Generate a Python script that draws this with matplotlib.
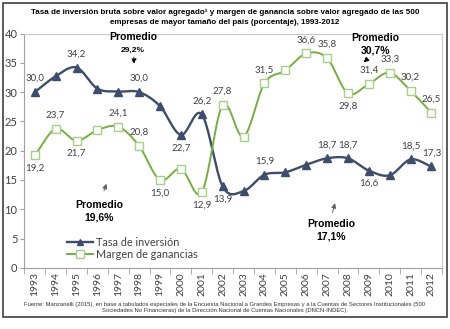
import numpy as np
import matplotlib.pyplot as plt
from matplotlib.patches import Rectangle

years = [str(y) for y in range(1993, 2013)]
tasa = [30.0, 32.7, 34.2, 30.6, 30.1, 30.0, 27.6, 22.7, 26.2, 13.9,
        13.1, 15.9, 16.3, 17.6, 18.7, 18.7, 16.6, 15.8, 18.5, 17.3]
margen = [19.2, 23.7, 21.7, 23.5, 24.1, 20.8, 15.0, 16.9, 12.9, 27.8,
          22.4, 31.5, 33.7, 36.6, 35.8, 29.8, 31.4, 33.3, 30.2, 26.5]

# which points carry a value label, and where (above / below)
tasa_labels = {0: 'a', 2: 'a', 5: 'a', 7: 'b', 8: 'a', 9: 'b', 11: 'a',
               14: 'a', 15: 'a', 16: 'b', 18: 'a', 19: 'a'}
margen_labels = {0: 'b', 1: 'a', 2: 'b', 4: 'a', 5: 'a', 6: 'b', 8: 'b',
                 9: 'a', 11: 'a', 13: 'a', 14: 'a', 15: 'b', 16: 'a',
                 17: 'a', 18: 'a', 19: 'a'}

BLUE = '#3d4d6b'
GREEN = '#77ad45'
LIGHT_GREEN = '#a8cf8a'
TXT = '#404040'
SANS = 'Liberation Sans'
NUM = 'Lato'


def smooth(x, y, n=20):
    # Catmull-Rom curve through the points (similar to Excel's smoothed line)
    x = np.asarray(x, float)
    y = np.asarray(y, float)
    px = np.concatenate([[2 * x[0] - x[1]], x, [2 * x[-1] - x[-2]]])
    py = np.concatenate([[2 * y[0] - y[1]], y, [2 * y[-1] - y[-2]]])
    xs, ys = [], []
    t = np.linspace(0, 1, n, endpoint=False)
    for i in range(1, len(px) - 2):
        for p, out in ((px, xs), (py, ys)):
            p0, p1, p2, p3 = p[i - 1], p[i], p[i + 1], p[i + 2]
            m1 = (p2 - p0) / 2
            m2 = (p3 - p1) / 2
            h00 = 2 * t**3 - 3 * t**2 + 1
            h10 = t**3 - 2 * t**2 + t
            h01 = -2 * t**3 + 3 * t**2
            h11 = t**3 - t**2
            out.extend(h00 * p1 + h10 * m1 + h01 * p2 + h11 * m2)
    xs.append(x[-1])
    ys.append(y[-1])
    return np.array(xs), np.array(ys)


fig = plt.figure(figsize=(4.5, 3.29), dpi=100)
fig.patches.append(Rectangle((0.007, 0.036), 0.986, 0.956, transform=fig.transFigure,
                             fill=False, edgecolor='#404040', linewidth=1.2))

ax = fig.add_axes([0.054, 0.186, 0.928, 0.712])
x = np.arange(len(years))

sx, sy = smooth(x, tasa)
ax.plot(sx, sy, color=BLUE, linewidth=1.7, zorder=3)
ax.plot(x, tasa, linestyle='none', marker='^', markersize=5.5, color=BLUE, zorder=4)

sx, sy = smooth(x, margen)
ax.plot(sx, sy, color=GREEN, linewidth=1.4, zorder=3)
ax.plot(x, margen, linestyle='none', marker='s', markersize=6, markerfacecolor='white',
        markeredgecolor=LIGHT_GREEN, markeredgewidth=1.0, zorder=4)

for vals, labels in ((tasa, tasa_labels), (margen, margen_labels)):
    for i, pos in labels.items():
        dy = 2.3 if pos == 'a' else -2.2
        ax.text(i, vals[i] + dy, f'{vals[i]:.1f}'.replace('.', ','), ha='center',
                va='center', fontsize=7, color=TXT, family=NUM, zorder=5)

# promedios
bold = dict(ha='center', va='center', fontsize=7.5, fontweight='bold', family=SANS)
ax.text(4.7, 39.4, 'Promedio', **bold)
ax.text(4.7, 37.2, '29,2%', ha='center', va='center', fontsize=6, fontweight='bold',
        family=SANS)
ax.annotate('', xy=(4.75, 34.3), xytext=(4.75, 36.4),
            arrowprops=dict(arrowstyle='-|>', linestyle=':', color='black', lw=0.8,
                            mutation_scale=7))
ax.text(16.3, 39.2, 'Promedio', **bold)
ax.text(16.3, 37.15, '30,7%', **bold)
ax.annotate('', xy=(15.75, 35.1), xytext=(15.95, 35.7),
            arrowprops=dict(arrowstyle='-|>', color='black', lw=0.8, mutation_scale=7))
ax.text(3.1, 10.8, 'Promedio', **bold)
ax.text(3.1, 8.6, '19,6%', **bold)
ax.annotate('', xy=(3.48, 14.8), xytext=(3.27, 12.7),
            arrowprops=dict(arrowstyle='-|>', color='#606060', lw=0.7, mutation_scale=7))
ax.text(14.2, 7.5, 'Promedio', **bold)
ax.text(14.2, 5.4, '17,1%', **bold)
ax.annotate('', xy=(14.42, 11.5), xytext=(14.22, 9.0),
            arrowprops=dict(arrowstyle='-|>', color='#606060', lw=0.7, mutation_scale=7))

# legend drawn with proxy handles
h1, = ax.plot([], [], color=BLUE, marker='^', markersize=5, linewidth=1.7)
h2, = ax.plot([], [], color=GREEN, marker='s', markersize=5.5, markerfacecolor='white',
              markeredgecolor=LIGHT_GREEN, linewidth=1.4)
leg = ax.legend([h1, h2], ['Tasa de inversión', 'Margen de ganancias'],
                loc='lower left', bbox_to_anchor=(0.085, 0.0), frameon=False,
                prop=dict(family=NUM, size=7.8), handlelength=2.4, handletextpad=0.2,
                labelspacing=0.1, borderpad=0.2)
for t in leg.get_texts():
    t.set_color(TXT)

ax.set_xlim(-0.5, len(years) - 0.5)
ax.set_ylim(0, 40)
ax.set_yticks(range(0, 41, 5))
ax.set_xticks(x)
ax.set_xticklabels(years, rotation=90, fontsize=7.5, color=TXT, family=NUM)
ax.set_xticks(np.arange(-0.5, len(years), 1), minor=True)
ax.tick_params(axis='x', which='major', length=0, pad=3)
ax.tick_params(axis='x', which='minor', length=4, color='#a0a0a0')
ax.tick_params(axis='y', labelsize=8, length=3, color='#a0a0a0', labelcolor=TXT, pad=2)
for lab in ax.get_yticklabels():
    lab.set_family(NUM)
for side in ('top', 'right'):
    ax.spines[side].set_color('#c8c8c8')
    ax.spines[side].set_linewidth(0.8)
for side in ('left', 'bottom'):
    ax.spines[side].set_color('#a0a0a0')
    ax.spines[side].set_linewidth(0.8)

fig.text(0.5, 0.963, 'Tasa de inversión bruta sobre valor agregado\u00b9 y margen de ganancia sobre valor agregado de las 500',
         ha='center', va='center', fontsize=5.75, fontweight='bold', family=SANS)
fig.text(0.5, 0.932, 'empresas de mayor tamaño del país (porcentaje), 1993-2012',
         ha='center', va='center', fontsize=5.75, fontweight='bold', family=SANS)

fig.text(0.5, 0.073, 'Fuente: Manzanelli (2015), en base a tabulados especiales de la Encuesta Nacional a Grandes Empresas y a la Cuentas de Sectores Institucionales (500',
         ha='center', va='center', fontsize=4.2, color='#333333', family=SANS)
fig.text(0.5, 0.055, 'Sociedades No Financieras) de la Dirección Nacional de Cuentas Nacionales (DNCN-INDEC).',
         ha='center', va='center', fontsize=4.2, color='#333333', family=SANS)

fig.savefig('out.png', dpi=100)
